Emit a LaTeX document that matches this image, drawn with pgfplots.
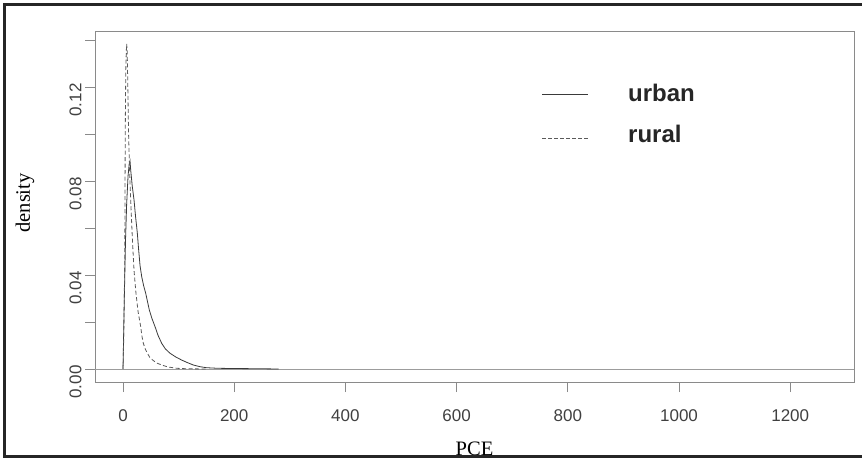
\documentclass[border=0pt]{standalone}
\usepackage{pgfplots}
\pgfplotsset{compat=1.18}
\usepackage{fontspec}
\setmainfont{Liberation Serif}
\newfontfamily\sansf{Liberation Sans}

\definecolor{boxgray}{HTML}{8A8A8A}
\definecolor{urbancol}{HTML}{3A3A3A}
\definecolor{ruralcol}{HTML}{5A5A5A}

\begin{document}
\begin{tikzpicture}[x=1pt,y=1pt]
\useasboundingbox (0,0) rectangle (862,460);
\begin{axis}[
  at={(95pt,78pt)}, anchor=south west,
  scale only axis, width=759pt, height=351pt,
  xmin=-50.4, xmax=1314.7,
  ymin=-0.00553, ymax=0.1438,
  axis line style={boxgray, line width=0.8pt},
  tick align=outside,
  major tick length=10pt,
  every tick/.style={boxgray, line width=0.8pt},
  xtick={0,200,400,600,800,1000,1200},
  xticklabels={0,200,400,600,800,1000,1200},
  ytick={0,0.02,0.04,0.06,0.08,0.10,0.12,0.14},
  yticklabels={0.00,,0.04,,0.08,,0.12,},
  xtick pos=bottom, ytick pos=left,
  /pgf/number format/assume math mode=true,
  tick label style={font=\sansf\fontsize{17}{20}\selectfont, text=black!75},
  xticklabel style={anchor=north, yshift=-14pt},
  yticklabel style={rotate=90, anchor=south, xshift=-13pt},
  xlabel={PCE},
  ylabel={density},
  label style={font=\fontsize{20.5}{22}\selectfont},
  xlabel style={at={(axis description cs:0.5,-0.2108)}, anchor=base},
  ylabel style={at={(axis description cs:-0.0922,0.51)}, anchor=center, rotate=0},
  clip=true,
]
% zero reference line
\addplot[boxgray!85, line width=0.8pt] coordinates {(-60,0) (1330,0)};

% urban density
\addplot[urbancol, line width=0.8pt] coordinates {
(0,0) (1.5,0.02) (3,0.038) (4.5,0.055) (6.5,0.07) (9,0.082) (11,0.087)
(12.6,0.0885) (13.8,0.0847) (16.5,0.078) (19.8,0.0719) (22.5,0.065)
(25.7,0.0579) (28,0.051) (30.6,0.044) (33.6,0.0393) (37,0.0355)
(40.8,0.0322) (47.3,0.0251) (52,0.0215) (57.6,0.018) (63,0.0143)
(69.6,0.0109) (76,0.0086) (84.5,0.0067) (95,0.0051) (105.5,0.0038)
(116,0.0027) (126.4,0.0017) (138,0.001) (150,0.00055) (170,0.0003)
(200,0.0002) (240,0.00012) (280,0)
};

% rural density
\addplot[ruralcol, line width=0.8pt, dash pattern=on 4pt off 2.5pt] coordinates {
(0,0) (1,0.01) (2,0.025) (3,0.045) (3.6,0.07) (3.8,0.09) (4.3,0.11)
(5,0.127) (5.8,0.135) (6.6,0.1383) (7.5,0.135) (8.3,0.125) (9.2,0.112)
(10,0.1) (10.8,0.093) (12.5,0.08) (14.5,0.068) (16.5,0.057) (18.2,0.049)
(19.8,0.042) (21.5,0.037) (23.4,0.032) (27,0.0245) (31.8,0.018)
(34,0.014) (36.6,0.0109) (40,0.0085) (43.8,0.0067) (48,0.005)
(53.4,0.0038) (60,0.0026) (69.6,0.0017) (80,0.0009) (96.6,0.0003)
(115,0.0001) (150,0)
};
\end{axis}

% legend
\draw[urbancol, line width=0.9pt] (542,365.7) -- (588,365.7);
\draw[ruralcol, line width=0.9pt, dash pattern=on 4pt off 2pt] (542,321.7) -- (588,321.7);
\node[anchor=base west, inner sep=0pt, font=\sansf\bfseries\fontsize{24}{26}\selectfont, text=black!85] at (628,358.3) {urban};
\node[anchor=base west, inner sep=0pt, font=\sansf\bfseries\fontsize{24}{26}\selectfont, text=black!85] at (628,317) {rural};

% outer frame
\draw[black!85, line width=3pt] (862,455) -- (4,455) -- (4,3) -- (862,3);
\end{tikzpicture}
\end{document}
